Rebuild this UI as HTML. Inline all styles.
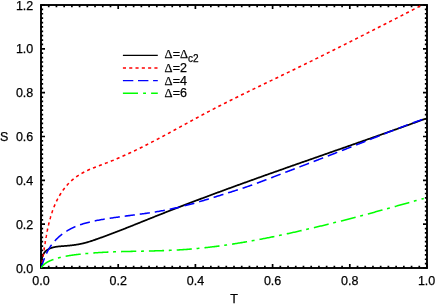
<!DOCTYPE html>
<html><head><meta charset="utf-8"><title>S vs T</title>
<style>
html,body{margin:0;padding:0;background:#fff;}
body{width:436px;height:305px;overflow:hidden;position:relative;font-family:"Liberation Sans",sans-serif;}
</style></head><body>
<svg width="436" height="305" viewBox="0 0 436 305" style="position:absolute;left:0;top:0;display:block">
<rect x="0" y="0" width="436" height="305" fill="#fff"/>
<defs><clipPath id="c"><rect x="41.0" y="5.0" width="386.0" height="263.0"/></clipPath></defs>
<path d="M41.00,268.0v-4.0M41.00,5.0v4.0M48.72,268.0v-2.15M48.72,5.0v2.15M56.44,268.0v-2.15M56.44,5.0v2.15M64.16,268.0v-2.15M64.16,5.0v2.15M71.88,268.0v-2.15M71.88,5.0v2.15M79.60,268.0v-2.15M79.60,5.0v2.15M87.32,268.0v-2.15M87.32,5.0v2.15M95.04,268.0v-2.15M95.04,5.0v2.15M102.76,268.0v-2.15M102.76,5.0v2.15M110.48,268.0v-2.15M110.48,5.0v2.15M118.20,268.0v-4.0M118.20,5.0v4.0M125.92,268.0v-2.15M125.92,5.0v2.15M133.64,268.0v-2.15M133.64,5.0v2.15M141.36,268.0v-2.15M141.36,5.0v2.15M149.08,268.0v-2.15M149.08,5.0v2.15M156.80,268.0v-2.15M156.80,5.0v2.15M164.52,268.0v-2.15M164.52,5.0v2.15M172.24,268.0v-2.15M172.24,5.0v2.15M179.96,268.0v-2.15M179.96,5.0v2.15M187.68,268.0v-2.15M187.68,5.0v2.15M195.40,268.0v-4.0M195.40,5.0v4.0M203.12,268.0v-2.15M203.12,5.0v2.15M210.84,268.0v-2.15M210.84,5.0v2.15M218.56,268.0v-2.15M218.56,5.0v2.15M226.28,268.0v-2.15M226.28,5.0v2.15M234.00,268.0v-2.15M234.00,5.0v2.15M241.72,268.0v-2.15M241.72,5.0v2.15M249.44,268.0v-2.15M249.44,5.0v2.15M257.16,268.0v-2.15M257.16,5.0v2.15M264.88,268.0v-2.15M264.88,5.0v2.15M272.60,268.0v-4.0M272.60,5.0v4.0M280.32,268.0v-2.15M280.32,5.0v2.15M288.04,268.0v-2.15M288.04,5.0v2.15M295.76,268.0v-2.15M295.76,5.0v2.15M303.48,268.0v-2.15M303.48,5.0v2.15M311.20,268.0v-2.15M311.20,5.0v2.15M318.92,268.0v-2.15M318.92,5.0v2.15M326.64,268.0v-2.15M326.64,5.0v2.15M334.36,268.0v-2.15M334.36,5.0v2.15M342.08,268.0v-2.15M342.08,5.0v2.15M349.80,268.0v-4.0M349.80,5.0v4.0M357.52,268.0v-2.15M357.52,5.0v2.15M365.24,268.0v-2.15M365.24,5.0v2.15M372.96,268.0v-2.15M372.96,5.0v2.15M380.68,268.0v-2.15M380.68,5.0v2.15M388.40,268.0v-2.15M388.40,5.0v2.15M396.12,268.0v-2.15M396.12,5.0v2.15M403.84,268.0v-2.15M403.84,5.0v2.15M411.56,268.0v-2.15M411.56,5.0v2.15M419.28,268.0v-2.15M419.28,5.0v2.15M427.00,268.0v-4.0M427.00,5.0v4.0M41.0,268.00h4.0M427.0,268.00h-4.0M41.0,263.62h2.15M427.0,263.62h-2.15M41.0,259.23h2.15M427.0,259.23h-2.15M41.0,254.85h2.15M427.0,254.85h-2.15M41.0,250.47h2.15M427.0,250.47h-2.15M41.0,246.08h2.15M427.0,246.08h-2.15M41.0,241.70h2.15M427.0,241.70h-2.15M41.0,237.32h2.15M427.0,237.32h-2.15M41.0,232.93h2.15M427.0,232.93h-2.15M41.0,228.55h2.15M427.0,228.55h-2.15M41.0,224.17h4.0M427.0,224.17h-4.0M41.0,219.78h2.15M427.0,219.78h-2.15M41.0,215.40h2.15M427.0,215.40h-2.15M41.0,211.02h2.15M427.0,211.02h-2.15M41.0,206.63h2.15M427.0,206.63h-2.15M41.0,202.25h2.15M427.0,202.25h-2.15M41.0,197.87h2.15M427.0,197.87h-2.15M41.0,193.48h2.15M427.0,193.48h-2.15M41.0,189.10h2.15M427.0,189.10h-2.15M41.0,184.72h2.15M427.0,184.72h-2.15M41.0,180.33h4.0M427.0,180.33h-4.0M41.0,175.95h2.15M427.0,175.95h-2.15M41.0,171.57h2.15M427.0,171.57h-2.15M41.0,167.18h2.15M427.0,167.18h-2.15M41.0,162.80h2.15M427.0,162.80h-2.15M41.0,158.42h2.15M427.0,158.42h-2.15M41.0,154.03h2.15M427.0,154.03h-2.15M41.0,149.65h2.15M427.0,149.65h-2.15M41.0,145.27h2.15M427.0,145.27h-2.15M41.0,140.88h2.15M427.0,140.88h-2.15M41.0,136.50h4.0M427.0,136.50h-4.0M41.0,132.12h2.15M427.0,132.12h-2.15M41.0,127.73h2.15M427.0,127.73h-2.15M41.0,123.35h2.15M427.0,123.35h-2.15M41.0,118.97h2.15M427.0,118.97h-2.15M41.0,114.58h2.15M427.0,114.58h-2.15M41.0,110.20h2.15M427.0,110.20h-2.15M41.0,105.82h2.15M427.0,105.82h-2.15M41.0,101.43h2.15M427.0,101.43h-2.15M41.0,97.05h2.15M427.0,97.05h-2.15M41.0,92.67h4.0M427.0,92.67h-4.0M41.0,88.28h2.15M427.0,88.28h-2.15M41.0,83.90h2.15M427.0,83.90h-2.15M41.0,79.52h2.15M427.0,79.52h-2.15M41.0,75.13h2.15M427.0,75.13h-2.15M41.0,70.75h2.15M427.0,70.75h-2.15M41.0,66.37h2.15M427.0,66.37h-2.15M41.0,61.98h2.15M427.0,61.98h-2.15M41.0,57.60h2.15M427.0,57.60h-2.15M41.0,53.22h2.15M427.0,53.22h-2.15M41.0,48.83h4.0M427.0,48.83h-4.0M41.0,44.45h2.15M427.0,44.45h-2.15M41.0,40.07h2.15M427.0,40.07h-2.15M41.0,35.68h2.15M427.0,35.68h-2.15M41.0,31.30h2.15M427.0,31.30h-2.15M41.0,26.92h2.15M427.0,26.92h-2.15M41.0,22.53h2.15M427.0,22.53h-2.15M41.0,18.15h2.15M427.0,18.15h-2.15M41.0,13.77h2.15M427.0,13.77h-2.15M41.0,9.38h2.15M427.0,9.38h-2.15M41.0,5.00h4.0M427.0,5.00h-4.0" stroke="#000" stroke-width="1.7" fill="none"/>
<rect x="41.0" y="5.0" width="386.0" height="263.0" fill="none" stroke="#000" stroke-width="1.9"/>
<g clip-path="url(#c)" fill="none" stroke-linejoin="round">
<path d="M41.20,267.60 L41.19,267.38 L41.19,267.17 L41.18,266.95 L41.17,266.72 L41.17,266.64 L41.17,266.50 L41.17,266.27 L41.16,266.04 L41.16,265.81 L41.16,265.64 L41.16,265.58 L41.16,265.35 L41.16,265.11 L41.16,264.87 L41.17,264.63 L41.17,264.60 L41.17,264.39 L41.18,264.15 L41.19,263.91 L41.20,263.67 L41.21,263.54 L41.21,263.42 L41.22,263.18 L41.24,262.93 L41.25,262.68 L41.27,262.46 L41.27,262.43 L41.29,262.18 L41.31,261.94 L41.34,261.69 L41.36,261.44 L41.37,261.37 L41.39,261.19 L41.42,260.94 L41.45,260.69 L41.49,260.44 L41.51,260.27 L41.52,260.19 L41.56,259.94 L41.60,259.69 L41.65,259.44 L41.69,259.19 L41.70,259.19 L41.74,258.95 L41.79,258.70 L41.85,258.45 L41.90,258.21 L41.93,258.11 L41.96,257.97 L42.02,257.72 L42.09,257.48 L42.16,257.24 L42.21,257.05 L42.23,257.00 L42.30,256.77 L42.38,256.53 L42.46,256.30 L42.54,256.07 L42.55,256.03 L42.63,255.84 L42.72,255.61 L42.81,255.38 L42.90,255.16 L42.96,255.03 L43.00,254.94 L43.11,254.72 L43.21,254.50 L43.32,254.28 L43.43,254.09 L43.44,254.07 L43.55,253.86 L43.68,253.66 L43.80,253.45 L43.93,253.25 L43.97,253.19 L44.06,253.06 L44.20,252.86 L44.34,252.67 L44.48,252.48 L44.59,252.36 L44.63,252.30 L44.79,252.12 L44.94,251.94 L45.10,251.77 L45.27,251.60 L45.28,251.58 L45.43,251.43 L45.61,251.26 L45.78,251.10 L45.96,250.95 L46.04,250.88 L46.14,250.79 L46.32,250.64 L46.50,250.49 L46.69,250.35 L46.85,250.23 L46.88,250.21 L47.08,250.07 L47.27,249.94 L47.47,249.81 L47.67,249.68 L47.71,249.65 L47.87,249.56 L48.07,249.43 L48.27,249.32 L48.48,249.20 L48.60,249.13 L48.68,249.09 L48.89,248.98 L49.10,248.87 L49.31,248.77 L49.51,248.67 L49.52,248.67 L49.74,248.57 L49.95,248.48 L50.17,248.39 L50.38,248.30 L50.46,248.27 L50.60,248.21 L50.82,248.13 L51.04,248.04 L51.26,247.96 L51.42,247.91 L51.49,247.89 L51.71,247.81 L51.94,247.74 L52.16,247.67 L52.39,247.60 L52.41,247.60 L52.62,247.54 L52.85,247.48 L53.08,247.41 L53.31,247.36 L53.42,247.33 L53.54,247.30 L53.77,247.24 L54.01,247.19 L54.24,247.14 L54.44,247.10 L54.48,247.09 L54.71,247.04 L54.95,246.99 L55.19,246.95 L55.43,246.91 L55.48,246.90 L55.67,246.86 L55.91,246.82 L56.15,246.79 L56.39,246.75 L56.53,246.73 L56.63,246.71 L56.87,246.68 L57.11,246.64 L57.35,246.61 L57.60,246.58 L57.60,246.58 L57.84,246.55 L58.08,246.52 L58.33,246.50 L58.57,246.47 L58.66,246.46 L58.82,246.44 L59.06,246.42 L59.31,246.39 L59.55,246.37 L59.74,246.35 L59.80,246.35 L60.05,246.32 L60.29,246.30 L60.54,246.28 L60.79,246.26 L60.82,246.26 L61.03,246.24 L61.28,246.22 L61.53,246.20 L61.77,246.18 L61.90,246.17 L62.02,246.16 L62.26,246.15 L62.51,246.13 L62.76,246.11 L62.98,246.09 L63.00,246.09 L63.25,246.07 L63.50,246.05 L63.74,246.04 L63.99,246.02 L64.05,246.01 L64.23,246.00 L64.48,245.98 L64.72,245.96 L64.97,245.94 L65.12,245.93 L65.21,245.92 L65.45,245.90 L65.70,245.88 L65.94,245.86 L66.18,245.84 L66.19,245.84 L66.43,245.82 L66.67,245.80 L66.91,245.78 L67.15,245.76 L67.25,245.75 L67.40,245.74 L67.64,245.72 L67.88,245.69 L68.12,245.67 L68.31,245.66 L68.36,245.65 L68.60,245.63 L68.84,245.60 L69.08,245.58 L69.33,245.56 L69.37,245.55 L69.57,245.53 L69.81,245.51 L70.05,245.48 L70.28,245.46 L70.42,245.45 L70.52,245.43 L70.76,245.41 L71.00,245.38 L71.24,245.36 L71.46,245.33 L71.48,245.33 L71.72,245.30 L71.96,245.27 L72.19,245.25 L72.43,245.22 L72.50,245.21 L72.67,245.19 L72.91,245.16 L73.14,245.13 L73.38,245.10 L73.54,245.08 L73.62,245.07 L73.85,245.04 L74.09,245.01 L74.33,244.97 L74.56,244.94 L74.58,244.94 L74.80,244.91 L75.04,244.88 L75.27,244.84 L75.51,244.81 L75.61,244.79 L75.74,244.77 L75.98,244.74 L76.21,244.70 L76.45,244.66 L76.64,244.63 L76.68,244.63 L76.92,244.59 L77.15,244.55 L77.39,244.51 L77.62,244.47 L77.67,244.46 L77.86,244.43 L78.09,244.39 L78.33,244.35 L78.56,244.31 L78.69,244.28 L78.79,244.27 L79.03,244.22 L79.26,244.18 L79.49,244.14 L79.72,244.09 L79.73,244.09 L79.96,244.04 L80.19,244.00 L80.43,243.95 L80.66,243.90 L80.74,243.89 L80.89,243.86 L81.12,243.81 L81.36,243.76 L81.59,243.71 L81.76,243.67 L81.82,243.66 L82.05,243.60 L82.29,243.55 L82.52,243.50 L82.75,243.44 L82.77,243.44 L82.98,243.39 L83.21,243.33 L83.45,243.28 L83.68,243.22 L83.79,243.19 L83.91,243.16 L84.14,243.10 L84.37,243.05 L84.60,242.99 L84.80,242.93 L84.84,242.93 L85.07,242.86 L85.30,242.80 L85.53,242.74 L85.76,242.68 L85.81,242.66 L85.99,242.61 L86.22,242.55 L86.45,242.49 L86.68,242.42 L86.82,242.38 L87.83,242.09 L88.84,241.78 L89.85,241.47 L90.85,241.15 L91.86,240.82 L92.86,240.48 L93.86,240.14 L94.86,239.80 L95.87,239.45 L96.86,239.10 L97.86,238.75 L98.86,238.40 L99.86,238.04 L100.85,237.68 L101.85,237.32 L102.84,236.96 L103.84,236.60 L104.83,236.24 L105.82,235.87 L106.81,235.51 L107.80,235.14 L108.80,234.77 L109.78,234.40 L110.77,234.03 L111.76,233.65 L112.75,233.28 L113.74,232.90 L114.72,232.53 L115.71,232.15 L116.70,231.77 L117.68,231.39 L118.67,231.01 L119.65,230.63 L120.63,230.24 L121.62,229.86 L122.60,229.47 L123.58,229.09 L124.56,228.70 L125.55,228.32 L126.53,227.93 L127.51,227.54 L128.49,227.15 L129.47,226.76 L130.45,226.37 L131.43,225.98 L132.41,225.59 L133.39,225.20 L134.37,224.81 L135.35,224.41 L136.33,224.02 L137.31,223.63 L138.29,223.24 L139.26,222.84 L140.24,222.45 L141.22,222.06 L142.20,221.66 L143.18,221.27 L144.16,220.88 L145.14,220.48 L146.11,220.09 L147.09,219.70 L148.07,219.31 L149.05,218.91 L150.03,218.52 L151.01,218.13 L151.99,217.74 L152.97,217.34 L153.94,216.95 L154.92,216.56 L155.90,216.17 L156.88,215.78 L157.86,215.39 L158.84,215.00 L159.82,214.62 L160.80,214.23 L161.79,213.84 L162.77,213.45 L163.75,213.07 L164.73,212.68 L165.71,212.30 L166.69,211.91 L167.67,211.53 L168.66,211.14 L169.64,210.76 L170.62,210.37 L171.60,209.99 L172.59,209.61 L173.57,209.23 L174.55,208.85 L175.53,208.46 L176.52,208.08 L177.50,207.70 L178.49,207.32 L179.47,206.94 L180.45,206.56 L181.44,206.19 L182.42,205.81 L183.41,205.43 L184.39,205.05 L185.38,204.68 L186.36,204.30 L187.35,203.92 L188.33,203.55 L189.32,203.17 L190.30,202.80 L191.29,202.42 L192.28,202.05 L193.26,201.67 L194.25,201.30 L195.24,200.93 L196.22,200.55 L197.21,200.18 L198.20,199.81 L199.18,199.44 L200.17,199.06 L201.16,198.69 L202.15,198.32 L203.13,197.95 L204.12,197.58 L205.11,197.21 L206.10,196.84 L207.09,196.47 L208.07,196.10 L209.06,195.74 L210.05,195.37 L211.04,195.00 L212.03,194.63 L213.02,194.27 L214.01,193.90 L215.00,193.53 L215.99,193.17 L216.98,192.80 L217.97,192.44 L218.96,192.07 L219.95,191.71 L220.94,191.34 L221.93,190.98 L222.92,190.61 L223.91,190.25 L224.90,189.89 L225.89,189.52 L226.88,189.16 L227.87,188.80 L228.86,188.43 L229.85,188.07 L230.84,187.71 L231.83,187.35 L232.83,186.99 L233.82,186.63 L234.81,186.27 L235.80,185.91 L236.79,185.55 L237.78,185.19 L238.78,184.83 L239.77,184.47 L240.76,184.11 L241.75,183.75 L242.75,183.39 L243.74,183.03 L244.73,182.67 L245.72,182.31 L246.72,181.96 L247.71,181.60 L248.70,181.24 L249.70,180.89 L250.69,180.53 L251.68,180.17 L252.68,179.82 L253.67,179.46 L254.66,179.10 L255.66,178.75 L256.65,178.39 L257.64,178.04 L258.64,177.68 L259.63,177.33 L260.63,176.97 L261.62,176.62 L262.61,176.26 L263.61,175.91 L264.60,175.55 L265.60,175.20 L266.59,174.85 L267.59,174.49 L268.58,174.14 L269.57,173.79 L270.57,173.43 L271.56,173.08 L272.56,172.73 L273.55,172.37 L274.55,172.02 L275.54,171.67 L276.54,171.32 L277.53,170.96 L278.53,170.61 L279.52,170.26 L280.52,169.91 L281.52,169.56 L282.51,169.21 L283.51,168.86 L284.50,168.50 L285.50,168.15 L286.49,167.80 L287.49,167.45 L288.48,167.10 L289.48,166.75 L290.48,166.40 L291.47,166.05 L292.47,165.70 L293.46,165.35 L294.46,165.00 L295.46,164.65 L296.45,164.30 L297.45,163.95 L298.44,163.60 L299.44,163.25 L300.44,162.90 L301.43,162.55 L302.43,162.20 L303.42,161.85 L304.42,161.50 L305.42,161.16 L306.41,160.81 L307.41,160.46 L308.41,160.11 L309.40,159.76 L310.40,159.41 L311.39,159.06 L312.39,158.71 L313.39,158.37 L314.38,158.02 L315.38,157.67 L316.38,157.32 L317.37,156.97 L318.37,156.62 L319.37,156.27 L320.36,155.93 L321.36,155.58 L322.36,155.23 L323.35,154.88 L324.35,154.53 L325.34,154.18 L326.34,153.84 L327.34,153.49 L328.33,153.14 L329.33,152.79 L330.33,152.44 L331.32,152.09 L332.32,151.75 L333.32,151.40 L334.31,151.05 L335.31,150.70 L336.31,150.35 L337.30,150.00 L338.30,149.66 L339.30,149.31 L340.29,148.96 L341.29,148.61 L342.28,148.26 L343.28,147.91 L344.28,147.57 L345.27,147.22 L346.27,146.87 L347.27,146.52 L348.26,146.17 L349.26,145.82 L350.25,145.47 L351.25,145.12 L352.25,144.78 L353.24,144.43 L354.24,144.08 L355.24,143.73 L356.23,143.38 L357.23,143.03 L358.22,142.68 L359.22,142.33 L360.22,141.98 L361.21,141.63 L362.21,141.28 L363.20,140.93 L364.20,140.58 L365.19,140.23 L366.19,139.88 L367.18,139.53 L368.18,139.18 L369.18,138.83 L370.17,138.48 L371.17,138.13 L372.16,137.78 L373.16,137.43 L374.15,137.08 L375.15,136.73 L376.14,136.38 L377.14,136.03 L378.13,135.67 L379.13,135.32 L380.12,134.97 L381.12,134.62 L382.11,134.27 L383.11,133.92 L384.10,133.56 L385.10,133.21 L386.09,132.86 L387.08,132.51 L388.08,132.15 L389.07,131.80 L390.07,131.45 L391.06,131.09 L392.06,130.74 L393.05,130.39 L394.04,130.03 L395.04,129.68 L396.03,129.32 L397.02,128.97 L398.02,128.61 L399.01,128.26 L400.00,127.90 L401.00,127.55 L401.99,127.19 L402.98,126.84 L403.98,126.48 L404.97,126.13 L405.96,125.77 L406.96,125.41 L407.95,125.06 L408.94,124.70 L409.93,124.34 L410.93,123.99 L411.92,123.63 L412.91,123.27 L413.90,122.91 L414.89,122.56 L415.89,122.20 L416.88,121.84 L417.87,121.48 L418.86,121.12 L419.85,120.76 L420.84,120.40 L421.84,120.04 L422.83,119.68 L423.82,119.32 L424.81,118.96 L425.80,118.60" stroke="#000" stroke-width="1.75"/>
<path d="M41.20,267.60 L41.24,267.37 L41.28,267.14 L41.33,266.91 L41.37,266.68 L41.41,266.45 L41.41,266.43 L41.45,266.21 L41.49,265.98 L41.53,265.75 L41.57,265.52 L41.61,265.29 L41.62,265.25 L41.65,265.06 L41.70,264.82 L41.74,264.59 L41.78,264.36 L41.82,264.13 L41.83,264.06 L41.86,263.89 L41.89,263.66 L41.93,263.43 L41.97,263.19 L42.01,262.96 L42.03,262.88 L42.05,262.73 L42.09,262.49 L42.13,262.26 L42.17,262.02 L42.21,261.79 L42.22,261.69 L42.25,261.56 L42.28,261.32 L42.32,261.09 L42.36,260.85 L42.40,260.62 L42.42,260.49 L42.44,260.38 L42.47,260.15 L42.51,259.91 L42.55,259.67 L42.59,259.44 L42.61,259.29 L42.62,259.20 L42.66,258.97 L42.70,258.73 L42.74,258.49 L42.77,258.26 L42.80,258.09 L42.81,258.02 L42.85,257.79 L42.88,257.55 L42.92,257.31 L42.96,257.07 L42.99,256.89 L43.00,256.84 L43.03,256.60 L43.07,256.36 L43.11,256.13 L43.14,255.89 L43.17,255.68 L43.18,255.65 L43.21,255.41 L43.25,255.18 L43.29,254.94 L43.32,254.70 L43.36,254.47 L43.36,254.46 L43.40,254.22 L43.43,253.98 L43.47,253.75 L43.51,253.51 L43.54,253.27 L43.54,253.25 L43.58,253.03 L43.61,252.79 L43.65,252.55 L43.69,252.31 L43.72,252.08 L43.73,252.04 L43.76,251.84 L43.79,251.60 L43.83,251.36 L43.87,251.12 L43.90,250.88 L43.91,250.82 L43.94,250.64 L43.98,250.40 L44.01,250.16 L44.05,249.92 L44.08,249.68 L44.10,249.60 L44.12,249.44 L44.16,249.20 L44.19,248.96 L44.23,248.72 L44.27,248.48 L44.28,248.38 L44.30,248.24 L44.34,248.00 L44.38,247.76 L44.41,247.52 L44.45,247.28 L44.47,247.16 L44.49,247.04 L44.52,246.80 L44.56,246.56 L44.60,246.32 L44.63,246.08 L44.66,245.94 L44.67,245.84 L44.71,245.60 L44.75,245.36 L44.78,245.12 L44.82,244.88 L44.85,244.71 L44.86,244.64 L44.90,244.40 L44.93,244.16 L44.97,243.92 L45.01,243.68 L45.04,243.49 L45.05,243.43 L45.09,243.19 L45.12,242.95 L45.16,242.71 L45.20,242.47 L45.23,242.27 L45.24,242.23 L45.28,241.99 L45.32,241.75 L45.35,241.51 L45.39,241.27 L45.43,241.04 L45.43,241.03 L45.47,240.79 L45.51,240.55 L45.55,240.31 L45.59,240.06 L45.63,239.82 L45.63,239.82 L45.67,239.58 L45.71,239.34 L45.75,239.10 L45.79,238.86 L45.83,238.62 L45.84,238.59 L45.87,238.38 L45.91,238.14 L45.96,237.90 L46.00,237.66 L46.04,237.42 L46.05,237.37 L46.08,237.18 L46.12,236.94 L46.16,236.70 L46.21,236.46 L46.25,236.22 L46.26,236.14 L46.29,235.98 L46.33,235.73 L46.38,235.49 L46.42,235.25 L46.46,235.01 L46.48,234.92 L46.51,234.77 L46.55,234.53 L46.59,234.29 L46.64,234.05 L46.68,233.81 L46.70,233.70 L46.73,233.57 L46.77,233.33 L46.82,233.09 L46.86,232.86 L46.91,232.62 L46.93,232.48 L46.95,232.38 L47.00,232.14 L47.04,231.90 L47.09,231.66 L47.14,231.42 L47.17,231.26 L47.18,231.18 L47.23,230.94 L47.28,230.70 L47.33,230.46 L47.37,230.22 L47.41,230.05 L47.42,229.98 L47.47,229.75 L47.52,229.51 L47.57,229.27 L47.62,229.03 L47.66,228.83 L47.67,228.79 L47.72,228.55 L47.77,228.31 L47.82,228.08 L47.87,227.84 L47.92,227.62 L47.92,227.60 L47.97,227.36 L48.02,227.12 L48.07,226.89 L48.13,226.65 L48.18,226.41 L48.18,226.41 L48.23,226.17 L48.28,225.94 L48.34,225.70 L48.39,225.46 L48.45,225.23 L48.45,225.20 L48.50,224.99 L48.55,224.75 L48.61,224.52 L48.66,224.28 L48.72,224.04 L48.73,224.00 L48.78,223.81 L48.83,223.57 L48.89,223.34 L48.95,223.10 L49.00,222.86 L49.02,222.80 L49.06,222.63 L49.12,222.39 L49.18,222.16 L49.24,221.92 L49.30,221.69 L49.32,221.60 L49.35,221.45 L49.41,221.22 L49.47,220.98 L49.54,220.75 L49.60,220.52 L49.62,220.41 L49.66,220.28 L49.72,220.05 L49.78,219.81 L49.84,219.58 L49.91,219.35 L49.94,219.22 L49.97,219.11 L50.03,218.88 L50.10,218.65 L50.16,218.41 L50.23,218.18 L50.27,218.04 L50.29,217.95 L50.36,217.72 L50.42,217.48 L50.49,217.25 L50.56,217.02 L50.61,216.86 L50.62,216.79 L50.69,216.56 L50.76,216.33 L50.83,216.10 L50.90,215.86 L50.95,215.68 L50.97,215.63 L51.04,215.40 L51.11,215.17 L51.18,214.94 L51.25,214.71 L51.31,214.51 L51.32,214.48 L51.39,214.25 L51.47,214.02 L51.54,213.80 L51.61,213.57 L51.68,213.34 L51.69,213.34 L51.76,213.11 L51.84,212.88 L51.91,212.65 L51.99,212.42 L52.06,212.20 L52.07,212.18 L52.14,211.97 L52.22,211.74 L52.30,211.52 L52.37,211.29 L52.45,211.06 L52.46,211.03 L52.53,210.84 L52.61,210.61 L52.69,210.38 L52.77,210.16 L52.85,209.93 L52.87,209.88 L52.94,209.71 L53.02,209.48 L53.10,209.26 L53.18,209.03 L53.27,208.81 L53.30,208.73 L53.73,207.60 L54.18,206.46 L54.64,205.34 L55.12,204.22 L55.62,203.11 L56.13,202.01 L56.65,200.91 L57.19,199.83 L57.75,198.75 L58.32,197.67 L58.92,196.61 L59.53,195.56 L60.15,194.51 L60.80,193.48 L61.46,192.45 L62.15,191.43 L62.85,190.43 L63.57,189.44 L64.31,188.46 L65.07,187.50 L65.84,186.55 L66.64,185.61 L67.45,184.70 L68.28,183.80 L69.13,182.92 L70.00,182.06 L70.89,181.22 L71.79,180.40 L72.71,179.60 L73.65,178.83 L74.61,178.07 L75.59,177.34 L76.58,176.64 L77.58,175.95 L78.60,175.28 L79.64,174.63 L80.69,174.00 L81.75,173.39 L82.82,172.79 L83.90,172.22 L84.99,171.66 L86.09,171.11 L87.20,170.58 L88.31,170.07 L89.43,169.57 L90.56,169.08 L91.70,168.60 L92.84,168.14 L93.98,167.68 L95.13,167.23 L96.28,166.79 L97.43,166.35 L98.59,165.92 L99.74,165.48 L100.90,165.06 L102.06,164.63 L103.21,164.20 L104.36,163.76 L105.51,163.33 L106.66,162.89 L107.81,162.45 L108.95,162.00 L110.09,161.55 L111.23,161.09 L112.37,160.63 L113.50,160.17 L114.64,159.70 L115.76,159.23 L116.89,158.75 L118.02,158.27 L119.14,157.79 L120.26,157.31 L121.38,156.82 L122.50,156.32 L123.62,155.83 L124.73,155.33 L125.85,154.83 L126.96,154.32 L128.07,153.81 L129.18,153.30 L130.29,152.78 L131.40,152.26 L132.50,151.74 L133.61,151.22 L134.71,150.69 L135.81,150.16 L136.91,149.63 L138.01,149.09 L139.11,148.56 L140.21,148.02 L141.30,147.47 L142.40,146.93 L143.49,146.38 L144.59,145.83 L145.68,145.28 L146.77,144.73 L147.86,144.17 L148.95,143.61 L150.04,143.05 L151.13,142.49 L152.22,141.93 L153.31,141.36 L154.39,140.80 L155.48,140.23 L156.56,139.66 L157.65,139.09 L158.73,138.52 L159.82,137.94 L160.90,137.37 L161.98,136.79 L163.06,136.21 L164.14,135.63 L165.22,135.05 L166.31,134.47 L167.39,133.89 L168.46,133.31 L169.54,132.72 L170.62,132.14 L171.70,131.55 L172.78,130.97 L173.86,130.38 L174.94,129.79 L176.01,129.21 L177.09,128.62 L178.17,128.03 L179.25,127.44 L180.33,126.85 L181.40,126.26 L182.48,125.68 L183.56,125.09 L184.64,124.50 L185.71,123.91 L186.79,123.32 L187.87,122.73 L188.95,122.14 L190.03,121.56 L191.10,120.97 L192.18,120.38 L193.26,119.80 L194.34,119.21 L195.42,118.63 L196.50,118.04 L197.58,117.46 L198.66,116.88 L199.74,116.29 L200.82,115.71 L201.91,115.13 L202.99,114.55 L204.07,113.98 L205.16,113.40 L206.24,112.83 L207.33,112.25 L208.41,111.68 L209.50,111.11 L210.58,110.54 L211.67,109.97 L212.76,109.41 L213.85,108.84 L214.94,108.28 L216.03,107.71 L217.12,107.15 L218.21,106.59 L219.30,106.03 L220.39,105.47 L221.49,104.92 L222.58,104.36 L223.67,103.81 L224.77,103.25 L225.86,102.70 L226.96,102.15 L228.05,101.60 L229.15,101.05 L230.24,100.50 L231.34,99.95 L232.44,99.40 L233.54,98.86 L234.63,98.31 L235.73,97.77 L236.83,97.22 L237.93,96.68 L239.03,96.14 L240.13,95.60 L241.23,95.06 L242.33,94.52 L243.43,93.98 L244.53,93.44 L245.63,92.90 L246.74,92.36 L247.84,91.83 L248.94,91.29 L250.04,90.75 L251.15,90.22 L252.25,89.68 L253.35,89.15 L254.45,88.61 L255.56,88.08 L256.66,87.55 L257.76,87.01 L258.87,86.48 L259.97,85.95 L261.08,85.42 L262.18,84.88 L263.29,84.35 L264.39,83.82 L265.49,83.29 L266.60,82.76 L267.70,82.23 L268.81,81.70 L269.91,81.16 L271.02,80.63 L272.12,80.10 L273.23,79.57 L274.33,79.04 L275.44,78.51 L276.54,77.98 L277.65,77.45 L278.75,76.91 L279.85,76.38 L280.96,75.85 L282.06,75.32 L283.17,74.79 L284.27,74.25 L285.38,73.72 L286.48,73.19 L287.58,72.65 L288.69,72.12 L289.79,71.59 L290.89,71.05 L292.00,70.52 L293.10,69.98 L294.20,69.45 L295.30,68.91 L296.41,68.37 L297.51,67.84 L298.61,67.30 L299.71,66.76 L300.81,66.22 L301.92,65.69 L303.02,65.15 L304.12,64.61 L305.22,64.07 L306.32,63.53 L307.42,62.99 L308.52,62.45 L309.62,61.91 L310.72,61.37 L311.82,60.83 L312.92,60.29 L314.02,59.74 L315.12,59.20 L316.22,58.66 L317.32,58.12 L318.42,57.57 L319.52,57.03 L320.62,56.49 L321.72,55.94 L322.82,55.40 L323.92,54.86 L325.01,54.31 L326.11,53.77 L327.21,53.22 L328.31,52.67 L329.41,52.13 L330.50,51.58 L331.60,51.04 L332.70,50.49 L333.80,49.94 L334.89,49.39 L335.99,48.85 L337.09,48.30 L338.18,47.75 L339.28,47.20 L340.38,46.65 L341.47,46.10 L342.57,45.56 L343.67,45.01 L344.76,44.46 L345.86,43.91 L346.96,43.36 L348.05,42.81 L349.15,42.26 L350.24,41.70 L351.34,41.15 L352.43,40.60 L353.53,40.05 L354.62,39.50 L355.72,38.95 L356.81,38.39 L357.91,37.84 L359.00,37.29 L360.10,36.74 L361.19,36.18 L362.29,35.63 L363.38,35.08 L364.47,34.52 L365.57,33.97 L366.66,33.41 L367.75,32.86 L368.85,32.30 L369.94,31.75 L371.04,31.19 L372.13,30.64 L373.22,30.08 L374.31,29.53 L375.41,28.97 L376.50,28.42 L377.59,27.86 L378.69,27.30 L379.78,26.75 L380.87,26.19 L381.96,25.63 L383.06,25.08 L384.15,24.52 L385.24,23.96 L386.33,23.40 L387.42,22.85 L388.52,22.29 L389.61,21.73 L390.70,21.17 L391.79,20.61 L392.88,20.05 L393.97,19.50 L395.06,18.94 L396.16,18.38 L397.25,17.82 L398.34,17.26 L399.43,16.70 L400.52,16.14 L401.61,15.58 L402.70,15.02 L403.79,14.46 L404.88,13.90 L405.97,13.34 L407.06,12.78 L408.15,12.22 L409.24,11.66 L410.33,11.10 L411.42,10.54 L412.51,9.98 L413.60,9.42 L414.69,8.85 L415.78,8.29 L416.87,7.73 L417.96,7.17 L419.05,6.61 L420.14,6.05 L421.23,5.49 L422.32,4.92 L423.41,4.36 L424.50,3.80" stroke="#ff0000" stroke-width="1.55" stroke-dasharray="3.1 3.255" stroke-dashoffset="1.7"/>
<path d="M41.20,267.60 L41.27,267.37 L41.34,267.15 L41.41,266.92 L41.49,266.69 L41.52,266.60 L41.56,266.46 L41.63,266.24 L41.70,266.01 L41.78,265.78 L41.84,265.59 L41.85,265.55 L41.93,265.32 L42.00,265.10 L42.07,264.87 L42.15,264.64 L42.17,264.59 L42.22,264.41 L42.30,264.18 L42.38,263.95 L42.45,263.73 L42.50,263.58 L42.53,263.50 L42.61,263.27 L42.68,263.04 L42.76,262.81 L42.84,262.59 L42.84,262.58 L42.92,262.36 L43.00,262.13 L43.08,261.90 L43.16,261.67 L43.19,261.57 L43.24,261.45 L43.32,261.22 L43.40,260.99 L43.48,260.76 L43.55,260.57 L43.57,260.53 L43.65,260.31 L43.73,260.08 L43.82,259.85 L43.90,259.63 L43.92,259.57 L43.99,259.40 L44.07,259.17 L44.16,258.95 L44.25,258.72 L44.30,258.57 L44.33,258.49 L44.42,258.27 L44.51,258.04 L44.60,257.82 L44.69,257.59 L44.69,257.58 L44.78,257.37 L44.87,257.14 L44.96,256.92 L45.06,256.70 L45.10,256.59 L45.15,256.47 L45.24,256.25 L45.34,256.03 L45.43,255.80 L45.51,255.61 L45.53,255.58 L45.62,255.36 L45.72,255.14 L45.82,254.92 L45.92,254.70 L45.94,254.63 L46.02,254.47 L46.12,254.25 L46.22,254.03 L46.32,253.82 L46.39,253.67 L46.42,253.60 L46.52,253.38 L46.63,253.16 L46.73,252.94 L46.84,252.72 L46.85,252.70 L46.94,252.51 L47.05,252.29 L47.16,252.08 L47.27,251.86 L47.32,251.75 L47.38,251.65 L47.49,251.43 L47.60,251.22 L47.71,251.00 L47.81,250.81 L47.83,250.79 L47.94,250.58 L48.05,250.37 L48.17,250.16 L48.29,249.95 L48.32,249.88 L48.40,249.74 L48.52,249.53 L48.64,249.32 L48.76,249.11 L48.85,248.96 L48.88,248.90 L49.01,248.70 L49.13,248.49 L49.25,248.28 L49.38,248.08 L49.39,248.05 L49.50,247.87 L49.63,247.67 L49.76,247.47 L49.89,247.26 L49.96,247.16 L50.02,247.06 L50.15,246.86 L50.28,246.66 L50.42,246.46 L50.54,246.28 L50.55,246.26 L50.69,246.07 L50.82,245.87 L50.96,245.67 L51.10,245.48 L51.15,245.41 L51.24,245.28 L51.38,245.09 L51.52,244.89 L51.66,244.70 L51.77,244.56 L51.81,244.51 L51.95,244.32 L52.09,244.13 L52.24,243.94 L52.39,243.75 L52.41,243.72 L52.54,243.56 L52.69,243.37 L52.84,243.18 L52.99,243.00 L53.07,242.89 L53.14,242.81 L53.29,242.63 L53.44,242.44 L53.60,242.26 L53.75,242.08 L53.75,242.07 L53.91,241.89 L54.07,241.71 L54.23,241.53 L54.39,241.35 L54.44,241.28 L54.55,241.17 L54.71,240.99 L54.87,240.82 L55.03,240.64 L55.16,240.50 L55.19,240.46 L55.36,240.29 L55.52,240.11 L55.69,239.94 L55.85,239.77 L55.89,239.73 L56.02,239.59 L56.19,239.42 L56.36,239.25 L56.53,239.08 L56.63,238.98 L56.70,238.91 L56.87,238.74 L57.04,238.58 L57.22,238.41 L57.39,238.24 L57.39,238.24 L57.56,238.08 L57.74,237.91 L57.92,237.75 L58.09,237.59 L58.16,237.52 L58.27,237.42 L58.45,237.26 L58.63,237.10 L58.81,236.94 L58.95,236.81 L58.99,236.78 L59.17,236.62 L59.35,236.47 L59.53,236.31 L59.72,236.15 L59.76,236.12 L59.90,236.00 L60.09,235.84 L60.27,235.69 L60.46,235.54 L60.57,235.44 L60.65,235.38 L60.83,235.23 L61.02,235.08 L61.21,234.93 L61.40,234.78 L61.40,234.78 L61.59,234.63 L61.78,234.49 L61.97,234.34 L62.16,234.19 L62.25,234.13 L62.36,234.05 L62.55,233.90 L62.74,233.76 L62.94,233.62 L63.10,233.50 L63.13,233.48 L63.33,233.33 L63.52,233.19 L63.72,233.05 L63.92,232.92 L63.97,232.88 L64.12,232.78 L64.32,232.64 L64.51,232.50 L64.71,232.37 L64.85,232.28 L64.91,232.23 L65.12,232.10 L65.32,231.97 L65.52,231.83 L65.72,231.70 L65.73,231.69 L65.92,231.57 L66.13,231.44 L66.33,231.31 L66.54,231.18 L66.63,231.12 L66.74,231.06 L66.95,230.93 L67.15,230.80 L67.36,230.68 L67.54,230.57 L67.57,230.56 L67.77,230.43 L67.98,230.31 L68.19,230.19 L68.40,230.07 L68.46,230.03 L68.61,229.95 L68.82,229.83 L69.03,229.71 L69.24,229.59 L69.38,229.51 L69.45,229.48 L69.66,229.36 L69.87,229.24 L70.08,229.13 L70.30,229.02 L70.32,229.01 L70.51,228.90 L70.72,228.79 L70.94,228.68 L71.15,228.57 L71.26,228.52 L71.37,228.46 L71.58,228.35 L71.80,228.25 L72.01,228.14 L72.21,228.04 L72.23,228.03 L72.45,227.93 L72.66,227.82 L72.88,227.72 L73.10,227.62 L73.16,227.59 L73.31,227.52 L73.53,227.42 L73.75,227.32 L73.97,227.22 L74.13,227.15 L74.19,227.12 L74.41,227.02 L74.63,226.92 L74.85,226.83 L75.07,226.73 L75.10,226.72 L75.29,226.64 L75.51,226.55 L75.73,226.45 L75.95,226.36 L76.07,226.31 L76.18,226.27 L76.40,226.18 L76.62,226.09 L76.84,226.00 L77.05,225.92 L77.07,225.91 L77.29,225.82 L77.52,225.73 L77.74,225.65 L77.96,225.56 L78.04,225.53 L78.19,225.48 L78.41,225.39 L78.64,225.31 L78.86,225.23 L79.03,225.17 L79.09,225.14 L79.32,225.06 L79.54,224.98 L80.03,224.81 L81.03,224.47 L82.04,224.14 L83.05,223.82 L84.07,223.51 L85.09,223.22 L86.11,222.93 L87.14,222.65 L88.17,222.39 L89.20,222.13 L90.23,221.88 L91.27,221.64 L92.31,221.41 L93.35,221.18 L94.40,220.96 L95.44,220.75 L96.49,220.54 L97.53,220.34 L98.58,220.14 L99.63,219.95 L100.67,219.76 L101.72,219.58 L102.77,219.39 L103.82,219.22 L104.87,219.04 L105.92,218.87 L106.96,218.70 L108.01,218.54 L109.06,218.37 L110.11,218.21 L111.16,218.06 L112.21,217.90 L113.25,217.75 L114.30,217.60 L115.35,217.45 L116.40,217.30 L117.45,217.15 L118.50,217.01 L119.55,216.87 L120.60,216.72 L121.65,216.58 L122.70,216.44 L123.75,216.31 L124.80,216.17 L125.85,216.03 L126.90,215.89 L127.95,215.76 L129.00,215.62 L130.06,215.48 L131.11,215.35 L132.16,215.21 L133.21,215.07 L134.26,214.93 L135.32,214.80 L136.37,214.66 L137.42,214.52 L138.47,214.38 L139.53,214.24 L140.58,214.09 L141.63,213.95 L142.68,213.80 L143.73,213.66 L144.79,213.51 L145.84,213.36 L146.89,213.21 L147.94,213.06 L148.99,212.90 L150.04,212.75 L151.09,212.59 L152.14,212.43 L153.19,212.26 L154.24,212.10 L155.29,211.93 L156.34,211.76 L157.38,211.58 L158.43,211.41 L159.48,211.23 L160.52,211.05 L161.57,210.86 L162.61,210.67 L163.65,210.48 L164.70,210.28 L165.74,210.08 L166.78,209.88 L167.82,209.68 L168.86,209.46 L169.90,209.25 L170.94,209.03 L171.98,208.81 L173.01,208.58 L174.05,208.35 L175.08,208.12 L176.12,207.88 L177.15,207.64 L178.18,207.40 L179.21,207.15 L180.24,206.90 L181.27,206.65 L182.30,206.39 L183.33,206.13 L184.36,205.87 L185.39,205.60 L186.42,205.33 L187.44,205.06 L188.47,204.79 L189.49,204.51 L190.52,204.23 L191.54,203.95 L192.56,203.67 L193.59,203.38 L194.61,203.09 L195.63,202.80 L196.65,202.51 L197.67,202.22 L198.69,201.92 L199.71,201.62 L200.73,201.32 L201.75,201.02 L202.77,200.72 L203.79,200.41 L204.80,200.11 L205.82,199.80 L206.84,199.49 L207.86,199.18 L208.87,198.87 L209.89,198.56 L210.90,198.25 L211.92,197.93 L212.94,197.62 L213.95,197.31 L214.97,196.99 L215.98,196.67 L217.00,196.36 L218.01,196.04 L219.02,195.72 L220.04,195.41 L221.05,195.09 L222.07,194.77 L223.08,194.45 L224.09,194.14 L225.11,193.82 L226.12,193.50 L227.13,193.18 L228.15,192.86 L229.16,192.55 L230.17,192.23 L231.18,191.91 L232.20,191.59 L233.21,191.27 L234.22,190.94 L235.23,190.62 L236.24,190.30 L237.25,189.97 L238.26,189.64 L239.27,189.32 L240.28,188.99 L241.29,188.66 L242.29,188.32 L243.30,187.99 L244.31,187.65 L245.31,187.32 L246.32,186.98 L247.32,186.64 L248.32,186.29 L249.33,185.95 L250.33,185.60 L251.33,185.25 L252.33,184.89 L253.33,184.54 L254.33,184.18 L255.32,183.82 L256.32,183.45 L257.31,183.08 L258.31,182.72 L259.30,182.35 L260.30,181.97 L261.29,181.60 L262.28,181.22 L263.27,180.84 L264.27,180.47 L265.26,180.09 L266.25,179.71 L267.24,179.33 L268.23,178.94 L269.22,178.56 L270.21,178.18 L271.20,177.80 L272.19,177.42 L273.18,177.04 L274.17,176.65 L275.16,176.27 L276.15,175.89 L277.15,175.51 L278.14,175.13 L279.13,174.75 L280.12,174.37 L281.11,173.99 L282.10,173.61 L283.09,173.23 L284.08,172.84 L285.07,172.46 L286.06,172.08 L287.06,171.70 L288.05,171.32 L289.04,170.94 L290.03,170.56 L291.02,170.18 L292.01,169.80 L293.00,169.42 L293.99,169.04 L294.98,168.66 L295.98,168.28 L296.97,167.90 L297.96,167.52 L298.95,167.14 L299.94,166.76 L300.93,166.38 L301.92,166.00 L302.91,165.62 L303.90,165.24 L304.90,164.86 L305.89,164.48 L306.88,164.10 L307.87,163.72 L308.86,163.34 L309.85,162.96 L310.84,162.58 L311.83,162.20 L312.82,161.82 L313.82,161.44 L314.81,161.05 L315.80,160.67 L316.79,160.29 L317.78,159.91 L318.77,159.53 L319.76,159.15 L320.75,158.77 L321.74,158.38 L322.73,158.00 L323.72,157.62 L324.71,157.24 L325.70,156.86 L326.69,156.47 L327.68,156.09 L328.67,155.71 L329.66,155.32 L330.65,154.94 L331.64,154.56 L332.63,154.17 L333.62,153.79 L334.61,153.41 L335.60,153.02 L336.59,152.64 L337.58,152.25 L338.57,151.87 L339.56,151.48 L340.55,151.10 L341.54,150.71 L342.53,150.33 L343.52,149.94 L344.51,149.55 L345.50,149.17 L346.49,148.78 L347.47,148.39 L348.46,148.01 L349.45,147.62 L350.44,147.23 L351.43,146.84 L352.42,146.45 L353.40,146.06 L354.39,145.67 L355.38,145.28 L356.37,144.90 L357.36,144.50 L358.34,144.11 L359.33,143.72 L360.32,143.33 L361.31,142.94 L362.29,142.55 L363.28,142.16 L364.27,141.77 L365.25,141.38 L366.24,140.98 L367.23,140.59 L368.22,140.20 L369.20,139.81 L370.19,139.42 L371.18,139.02 L372.16,138.63 L373.15,138.24 L374.14,137.85 L375.13,137.46 L376.11,137.07 L377.10,136.67 L378.09,136.28 L379.07,135.89 L380.06,135.50 L381.05,135.11 L382.04,134.72 L383.02,134.33 L384.01,133.94 L385.00,133.55 L385.99,133.16 L386.98,132.78 L387.96,132.39 L388.95,132.00 L389.94,131.61 L390.93,131.23 L391.92,130.84 L392.91,130.46 L393.90,130.07 L394.89,129.69 L395.88,129.30 L396.87,128.92 L397.86,128.54 L398.85,128.16 L399.84,127.78 L400.83,127.40 L401.82,127.02 L402.81,126.64 L403.80,126.26 L404.80,125.88 L405.79,125.51 L406.78,125.13 L407.77,124.76 L408.77,124.38 L409.76,124.01 L410.75,123.64 L411.75,123.27 L412.74,122.90 L413.74,122.53 L414.73,122.17 L415.73,121.81 L416.73,121.45 L417.73,121.09 L418.73,120.74 L419.73,120.40 L420.74,120.06 L421.74,119.73 L422.75,119.41 L423.77,119.09 L424.78,118.79 L425.80,118.50" stroke="#0000ff" stroke-width="1.55" stroke-dasharray="10.2 4.98" stroke-dashoffset="0.2"/>
<path d="M41.20,267.60 L41.36,267.41 L41.52,267.22 L41.67,267.04 L41.83,266.85 L41.85,266.84 L41.99,266.66 L42.16,266.48 L42.32,266.30 L42.48,266.11 L42.51,266.09 L42.64,265.93 L42.81,265.75 L42.98,265.57 L43.14,265.40 L43.18,265.36 L43.31,265.22 L43.48,265.05 L43.66,264.88 L43.83,264.71 L43.88,264.66 L44.01,264.55 L44.18,264.38 L44.36,264.22 L44.54,264.06 L44.61,264.00 L44.73,263.91 L44.91,263.76 L45.10,263.61 L45.29,263.46 L45.37,263.40 L45.48,263.32 L45.67,263.18 L45.87,263.04 L46.06,262.91 L46.17,262.84 L46.26,262.78 L46.46,262.65 L46.66,262.52 L46.87,262.40 L46.99,262.32 L47.07,262.28 L47.28,262.16 L47.49,262.04 L47.70,261.93 L47.84,261.85 L47.91,261.81 L48.12,261.70 L48.33,261.60 L48.55,261.49 L48.71,261.41 L48.76,261.39 L48.98,261.28 L49.19,261.18 L49.41,261.08 L49.60,261.00 L49.63,260.98 L49.85,260.89 L50.07,260.79 L50.29,260.70 L50.49,260.62 L50.51,260.61 L50.74,260.52 L50.96,260.43 L51.18,260.34 L51.40,260.25 L51.41,260.25 L51.63,260.16 L51.85,260.07 L52.08,259.99 L52.30,259.90 L52.32,259.90 L52.53,259.82 L52.75,259.74 L52.98,259.66 L53.20,259.57 L53.23,259.56 L53.43,259.49 L53.65,259.41 L53.88,259.34 L54.11,259.26 L54.15,259.24 L54.33,259.18 L54.56,259.10 L54.79,259.03 L55.01,258.95 L55.08,258.93 L55.24,258.88 L55.47,258.80 L55.70,258.73 L55.93,258.66 L56.01,258.63 L56.15,258.59 L56.38,258.52 L56.61,258.45 L56.84,258.38 L56.94,258.35 L57.07,258.31 L57.30,258.24 L57.53,258.18 L57.76,258.11 L57.88,258.08 L57.99,258.05 L58.22,257.98 L58.45,257.92 L58.68,257.85 L58.82,257.82 L58.91,257.79 L59.15,257.73 L59.38,257.67 L59.61,257.61 L59.76,257.57 L59.84,257.55 L60.07,257.49 L60.30,257.43 L60.54,257.37 L60.71,257.33 L60.77,257.31 L61.00,257.26 L61.24,257.20 L61.47,257.15 L61.66,257.10 L61.70,257.09 L61.94,257.04 L62.17,256.98 L62.40,256.93 L62.61,256.88 L62.64,256.88 L62.87,256.83 L63.11,256.77 L63.34,256.72 L63.57,256.67 L63.58,256.67 L63.81,256.62 L64.04,256.57 L64.28,256.52 L64.52,256.48 L64.53,256.47 L64.75,256.43 L64.99,256.38 L65.22,256.33 L65.46,256.29 L65.49,256.28 L65.69,256.24 L65.93,256.20 L66.17,256.15 L66.40,256.11 L66.45,256.10 L66.64,256.07 L66.88,256.02 L67.11,255.98 L67.35,255.94 L67.42,255.92 L67.59,255.89 L67.82,255.85 L68.06,255.81 L68.30,255.77 L68.38,255.76 L68.53,255.73 L68.77,255.69 L69.01,255.65 L69.25,255.61 L69.35,255.60 L69.49,255.58 L69.72,255.54 L69.96,255.50 L70.20,255.46 L70.32,255.44 L70.44,255.43 L70.68,255.39 L70.91,255.35 L71.15,255.32 L71.29,255.30 L71.39,255.28 L71.63,255.25 L71.87,255.21 L72.11,255.18 L72.26,255.15 L72.35,255.14 L72.58,255.11 L72.82,255.08 L73.06,255.04 L73.24,255.02 L73.30,255.01 L73.54,254.98 L73.78,254.94 L74.02,254.91 L74.21,254.89 L74.26,254.88 L74.50,254.85 L74.74,254.82 L74.98,254.79 L75.19,254.76 L75.21,254.76 L75.45,254.73 L75.69,254.70 L75.93,254.67 L76.16,254.64 L76.17,254.64 L76.41,254.61 L76.65,254.58 L76.89,254.55 L77.13,254.52 L77.14,254.52 L77.37,254.49 L77.61,254.46 L77.85,254.44 L78.09,254.41 L78.12,254.40 L78.33,254.38 L78.57,254.35 L78.81,254.32 L79.05,254.30 L79.10,254.29 L79.29,254.27 L79.53,254.24 L79.77,254.22 L80.01,254.19 L80.07,254.18 L80.25,254.16 L80.49,254.14 L80.73,254.11 L80.97,254.08 L81.05,254.08 L81.21,254.06 L81.45,254.03 L81.69,254.01 L81.93,253.98 L82.03,253.97 L82.17,253.96 L82.41,253.93 L82.65,253.91 L82.89,253.88 L83.01,253.87 L83.13,253.86 L83.37,253.83 L83.61,253.81 L83.85,253.79 L83.98,253.77 L84.09,253.76 L84.33,253.74 L84.57,253.72 L84.81,253.69 L84.96,253.68 L85.05,253.67 L85.29,253.65 L85.53,253.62 L85.77,253.60 L85.94,253.59 L86.01,253.58 L86.25,253.56 L86.49,253.53 L86.73,253.51 L86.92,253.50 L86.97,253.49 L87.21,253.47 L87.45,253.45 L87.69,253.43 L87.90,253.41 L87.93,253.41 L88.17,253.38 L88.41,253.36 L88.65,253.34 L88.88,253.32 L88.89,253.32 L89.13,253.30 L89.37,253.28 L89.61,253.26 L89.85,253.24 L89.86,253.24 L90.09,253.22 L90.33,253.20 L90.57,253.18 L90.81,253.16 L90.84,253.16 L91.05,253.14 L91.29,253.12 L91.53,253.10 L91.77,253.09 L91.82,253.08 L92.01,253.07 L92.25,253.05 L92.49,253.03 L92.73,253.01 L92.80,253.01 L92.97,252.99 L93.21,252.98 L93.45,252.96 L93.69,252.94 L93.78,252.93 L93.94,252.92 L94.18,252.91 L94.42,252.89 L94.66,252.87 L94.76,252.86 L94.90,252.85 L95.14,252.84 L95.38,252.82 L95.62,252.80 L95.74,252.79 L95.86,252.79 L96.10,252.77 L96.34,252.75 L96.58,252.74 L96.72,252.73 L96.82,252.72 L97.06,252.71 L97.30,252.69 L97.54,252.67 L97.70,252.66 L97.78,252.66 L98.68,252.60 L99.66,252.54 L100.64,252.48 L101.62,252.43 L102.60,252.37 L103.58,252.32 L104.56,252.27 L105.54,252.22 L106.53,252.17 L107.51,252.12 L108.49,252.08 L109.47,252.04 L110.45,251.99 L111.44,251.95 L112.42,251.92 L113.40,251.88 L114.38,251.84 L115.36,251.81 L116.35,251.77 L117.33,251.74 L118.31,251.71 L119.29,251.68 L120.28,251.65 L121.26,251.62 L122.24,251.59 L123.22,251.57 L124.21,251.54 L125.19,251.52 L126.17,251.49 L127.16,251.47 L128.14,251.44 L129.12,251.42 L130.10,251.40 L131.09,251.38 L132.07,251.36 L133.05,251.33 L134.04,251.31 L135.02,251.29 L136.00,251.27 L136.99,251.25 L137.97,251.23 L138.95,251.21 L139.94,251.19 L140.92,251.18 L141.90,251.16 L142.88,251.14 L143.87,251.12 L144.85,251.10 L145.83,251.07 L146.82,251.05 L147.80,251.03 L148.78,251.01 L149.76,250.99 L150.75,250.97 L151.73,250.94 L152.71,250.92 L153.69,250.90 L154.68,250.87 L155.66,250.85 L156.64,250.82 L157.62,250.79 L158.61,250.77 L159.59,250.74 L160.57,250.71 L161.55,250.68 L162.53,250.64 L163.52,250.61 L164.50,250.58 L165.48,250.54 L166.46,250.50 L167.44,250.47 L168.42,250.43 L169.40,250.39 L170.38,250.34 L171.36,250.30 L172.35,250.26 L173.33,250.21 L174.31,250.16 L175.29,250.11 L176.27,250.06 L177.25,250.01 L178.23,249.95 L179.21,249.89 L180.19,249.83 L181.17,249.77 L182.14,249.71 L183.12,249.64 L184.10,249.58 L185.08,249.51 L186.06,249.44 L187.04,249.37 L188.02,249.29 L188.99,249.21 L189.97,249.14 L190.95,249.06 L191.93,248.97 L192.91,248.89 L193.88,248.80 L194.86,248.72 L195.84,248.63 L196.81,248.54 L197.79,248.44 L198.77,248.35 L199.74,248.25 L200.72,248.16 L201.70,248.06 L202.67,247.96 L203.65,247.85 L204.62,247.75 L205.60,247.64 L206.57,247.53 L207.55,247.42 L208.52,247.31 L209.50,247.20 L210.47,247.08 L211.45,246.97 L212.42,246.85 L213.40,246.73 L214.37,246.61 L215.34,246.49 L216.32,246.36 L217.29,246.24 L218.26,246.11 L219.24,245.98 L220.21,245.85 L221.18,245.72 L222.15,245.59 L223.13,245.45 L224.10,245.31 L225.07,245.18 L226.04,245.04 L227.01,244.90 L227.99,244.75 L228.96,244.61 L229.93,244.47 L230.90,244.32 L231.87,244.17 L232.84,244.02 L233.81,243.87 L234.78,243.72 L235.75,243.57 L236.72,243.41 L237.69,243.26 L238.66,243.10 L239.63,242.94 L240.60,242.78 L241.57,242.62 L242.54,242.46 L243.51,242.30 L244.47,242.13 L245.44,241.97 L246.41,241.80 L247.38,241.63 L248.35,241.46 L249.31,241.29 L250.28,241.12 L251.25,240.95 L252.22,240.77 L253.18,240.60 L254.15,240.42 L255.12,240.24 L256.08,240.06 L257.05,239.88 L258.02,239.70 L258.98,239.52 L259.95,239.34 L260.91,239.15 L261.88,238.97 L262.84,238.78 L263.81,238.60 L264.77,238.41 L265.74,238.22 L266.70,238.03 L267.67,237.84 L268.63,237.65 L269.59,237.45 L270.56,237.26 L271.52,237.06 L272.48,236.87 L273.45,236.67 L274.41,236.47 L275.37,236.28 L276.34,236.08 L277.30,235.88 L278.26,235.67 L279.22,235.47 L280.18,235.27 L281.15,235.07 L282.11,234.86 L283.07,234.66 L284.03,234.45 L284.99,234.24 L285.95,234.04 L286.91,233.83 L287.87,233.62 L288.83,233.41 L289.79,233.20 L290.75,232.99 L291.71,232.78 L292.67,232.56 L293.63,232.35 L294.59,232.14 L295.55,231.92 L296.51,231.71 L297.46,231.49 L298.42,231.27 L299.38,231.06 L300.34,230.84 L301.30,230.62 L302.25,230.40 L303.21,230.18 L304.17,229.96 L305.12,229.74 L306.08,229.52 L307.04,229.29 L308.00,229.07 L308.95,228.85 L309.91,228.62 L310.86,228.40 L311.82,228.17 L312.78,227.95 L313.73,227.72 L314.69,227.49 L315.64,227.26 L316.60,227.03 L317.55,226.81 L318.51,226.58 L319.46,226.35 L320.41,226.11 L321.37,225.88 L322.32,225.65 L323.28,225.42 L324.23,225.18 L325.18,224.95 L326.14,224.72 L327.09,224.48 L328.04,224.25 L329.00,224.01 L329.95,223.77 L330.90,223.54 L331.86,223.30 L332.81,223.06 L333.76,222.82 L334.71,222.58 L335.67,222.34 L336.62,222.10 L337.57,221.86 L338.52,221.62 L339.47,221.38 L340.42,221.14 L341.38,220.89 L342.33,220.65 L343.28,220.41 L344.23,220.16 L345.18,219.92 L346.13,219.67 L347.08,219.43 L348.03,219.18 L348.98,218.94 L349.93,218.69 L350.88,218.44 L351.83,218.19 L352.78,217.95 L353.73,217.70 L354.68,217.45 L355.63,217.20 L356.58,216.95 L357.53,216.70 L358.48,216.45 L359.43,216.20 L360.38,215.94 L361.33,215.69 L362.28,215.44 L363.23,215.19 L364.17,214.93 L365.12,214.68 L366.07,214.43 L367.02,214.17 L367.97,213.92 L368.92,213.66 L369.86,213.41 L370.81,213.15 L371.76,212.90 L372.71,212.64 L373.66,212.38 L374.60,212.13 L375.55,211.87 L376.50,211.61 L377.45,211.35 L378.39,211.10 L379.34,210.84 L380.29,210.58 L381.24,210.32 L382.18,210.06 L383.13,209.80 L384.08,209.54 L385.02,209.28 L385.97,209.02 L386.92,208.76 L387.86,208.50 L388.81,208.23 L389.76,207.97 L390.70,207.71 L391.65,207.45 L392.60,207.19 L393.54,206.92 L394.49,206.66 L395.44,206.40 L396.38,206.13 L397.33,205.87 L398.27,205.60 L399.22,205.34 L400.17,205.08 L401.11,204.81 L402.06,204.55 L403.00,204.28 L403.95,204.01 L404.89,203.75 L405.84,203.48 L406.79,203.22 L407.73,202.95 L408.68,202.68 L409.62,202.42 L410.57,202.15 L411.51,201.88 L412.46,201.62 L413.40,201.35 L414.35,201.08 L415.29,200.82 L416.24,200.55 L417.18,200.28 L418.13,200.01 L419.07,199.74 L420.02,199.47 L420.96,199.21 L421.91,198.94 L422.86,198.67 L423.80,198.40" stroke="#00ff00" stroke-width="1.55" stroke-dasharray="15.2 4.7 2.9 5.035" stroke-dashoffset="0.24"/>
</g>
<g fill="none">
<path d="M122.9,55.4H157.8" stroke="#000" stroke-width="1.35"/>
<path d="M122.9,68.0H157.8" stroke="#ff0000" stroke-width="1.4" stroke-dasharray="3.1 3.2"/>
<path d="M122.9,80.6H157.8" stroke="#0000ff" stroke-width="1.4" stroke-dasharray="10.4 4.7"/>
<path d="M122.9,93.2H157.8" stroke="#00ff00" stroke-width="1.4" stroke-dasharray="15.1 5.1 2.9 5.1"/>
</g>
<g font-family="Liberation Sans, sans-serif" font-size="12.5px" fill="#000" stroke="#000" stroke-width="0.25" style="filter:grayscale(1)">
<text x="33.3" y="273" text-anchor="end">0.0</text>
<text x="33.3" y="229" text-anchor="end">0.2</text>
<text x="33.3" y="185" text-anchor="end">0.4</text>
<text x="33.3" y="141" text-anchor="end">0.6</text>
<text x="33.3" y="97" text-anchor="end">0.8</text>
<text x="33.3" y="53" text-anchor="end">1.0</text>
<text x="33.3" y="10" text-anchor="end">1.2</text>
<text x="41.00" y="285" text-anchor="middle">0.0</text>
<text x="118.20" y="285" text-anchor="middle">0.2</text>
<text x="195.40" y="285" text-anchor="middle">0.4</text>
<text x="272.60" y="285" text-anchor="middle">0.6</text>
<text x="349.80" y="285" text-anchor="middle">0.8</text>
<text x="426.60" y="285" text-anchor="middle">1.0</text>
<text x="0" y="141">S</text>
<text x="234" y="303" text-anchor="middle">T</text>
<text x="164.6" y="58"><tspan font-family="Liberation Serif, serif">Δ</tspan>=<tspan font-family="Liberation Serif, serif">Δ</tspan><tspan font-size="10px" dy="3.5">c2</tspan></text>
<text x="164.6" y="72"><tspan font-family="Liberation Serif, serif">Δ</tspan>=2</text>
<text x="164.6" y="85"><tspan font-family="Liberation Serif, serif">Δ</tspan>=4</text>
<text x="164.6" y="97"><tspan font-family="Liberation Serif, serif">Δ</tspan>=6</text>
</g>
</svg>
</body></html>
